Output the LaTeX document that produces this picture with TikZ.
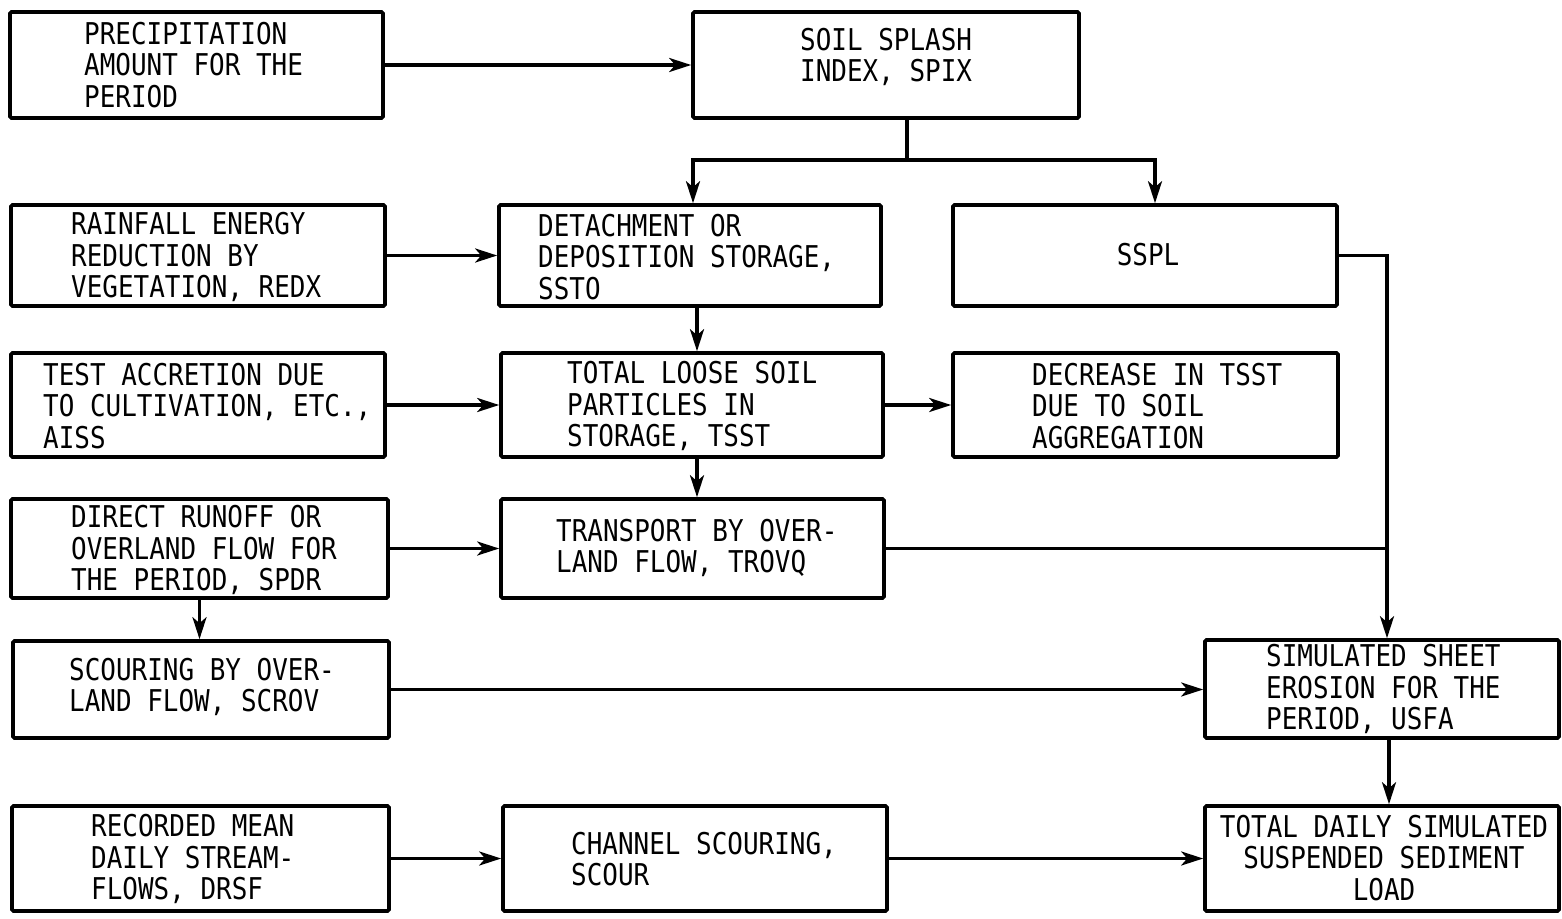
\documentclass[tikz,border=0pt]{standalone}
\usepackage{fontspec}
\setmonofont[FakeStretch=0.865]{DejaVu Sans Mono}
\usetikzlibrary{arrows.meta}
\tikzset{
  box/.style={draw, line width=3.6pt, rounded corners=1.5pt, inner sep=0pt},
  lbl/.style={inner sep=0pt, align=left, anchor=west, font=\ttfamily\fontsize{30}{31.5}\selectfont},
  clbl/.style={inner sep=0pt, align=center, font=\ttfamily\fontsize{30}{31.5}\selectfont},
  conn/.style={line width=3.4pt, -{Stealth[length=22pt,width=14pt,inset=6pt]}},
  link/.style={line width=3.4pt}
}
\newcommand\mkbox[5]{\node[box, minimum width={#4pt-#2pt}, minimum height={#5pt-#3pt}] (#1) at ({(#2+#4)/2},{(#3+#5)/2}) {};}
\begin{document}
\begin{tikzpicture}[x=1pt,y=-1pt]
\useasboundingbox (0,0) rectangle (1562,918);
% boxes
\mkbox{b1}{10}{12}{383}{118}
\mkbox{b2}{693}{12}{1079}{118}
\mkbox{b3}{11}{205}{385}{306}
\mkbox{b4}{499}{205}{881}{306}
\mkbox{b5}{953}{205}{1337}{306}
\mkbox{b6}{11}{353}{385}{457}
\mkbox{b7}{501}{353}{883}{457}
\mkbox{b8}{953}{353}{1338}{457}
\mkbox{b9}{11}{499}{388}{598}
\mkbox{b10}{501}{499}{884}{598}
\mkbox{b11}{13}{641}{389}{738}
\mkbox{b12}{1205}{640}{1559}{738}
\mkbox{b13}{12}{806}{389}{911}
\mkbox{b14}{503}{806}{887}{911}
\mkbox{b15}{1205}{806}{1559}{911}
% texts
\node[lbl] (t1) at (84,65) {PRECIPITATION\\AMOUNT FOR THE\\PERIOD};
\node[lbl] (t2) at (800,57) {SOIL SPLASH\\INDEX, SPIX};
\node[lbl] (t3) at (71,257) {RAINFALL ENERGY\\REDUCTION BY\\VEGETATION, REDX};
\node[lbl] (t4) at (538,257) {DETACHMENT OR\\DEPOSITION STORAGE,\\SSTO};
\node[clbl] (t5) at (1148,255) {SSPL};
\node[lbl] (t6) at (43,406) {TEST ACCRETION DUE\\TO CULTIVATION, ETC.,\\AISS};
\node[lbl] (t7) at (567,406) {TOTAL LOOSE SOIL\\PARTICLES IN\\STORAGE, TSST};
\node[lbl] (t8) at (1032,406) {DECREASE IN TSST\\DUE TO SOIL\\AGGREGATION};
\node[lbl] (t9) at (71,550) {DIRECT RUNOFF OR\\OVERLAND FLOW FOR\\THE PERIOD, SPDR};
\node[lbl] (t10) at (556,548) {TRANSPORT BY OVER-\\LAND FLOW, TROVQ};
\node[lbl] (t11) at (69,687) {SCOURING BY OVER-\\LAND FLOW, SCROV};
\node[lbl] (t12) at (1266,689) {SIMULATED SHEET\\EROSION FOR THE\\PERIOD, USFA};
\node[lbl] (t13) at (91,859) {RECORDED MEAN\\DAILY STREAM-\\FLOWS, DRSF};
\node[lbl] (t14) at (571,859) {CHANNEL SCOURING,\\SCOUR};
\node[clbl] (t15) at (1384,858) {TOTAL DAILY SIMULATED\\SUSPENDED SEDIMENT\\LOAD};
% connectors
\coordinate (split) at (907,160);
\coordinate (join) at (1387,548);
\draw[conn] (b1.east) -- (b1.east -| b2.west);
\draw[link] (split |- b2.south) -- (split);
\draw[conn] (split) -| ([xshift=3pt]b4.north);
\draw[conn] (split) -| ([xshift=10pt]b5.north);
\draw[conn] (b3.east) -- (b3.east -| b4.west);
\draw[conn] ([xshift=7pt]b4.south) -- ([xshift=7pt]b4.south |- b7.north);
\draw[conn] (b6.east) -- (b6.east -| b7.west);
\draw[conn] (b7.east) -- (b7.east -| b8.west);
\draw[conn] ([xshift=5pt]b7.south) -- ([xshift=5pt]b7.south |- b10.north);
\draw[conn] (b9.east) -- (b9.east -| b10.west);
\draw[conn] (b9.south) -- (b9.south |- b11.north);
\draw[conn] (b5.east) -| (join |- b12.north);
\draw[link] (b10.east) -- (b10.east -| join);
\draw[conn] (b11.east) -- (b11.east -| b12.west);
\draw[conn] ([xshift=7pt]b12.south) -- ([xshift=7pt]b12.south |- b15.north);
\draw[conn] (b13.east) -- (b13.east -| b14.west);
\draw[conn] (b14.east) -- (b14.east -| b15.west);
\end{tikzpicture}
\end{document}
